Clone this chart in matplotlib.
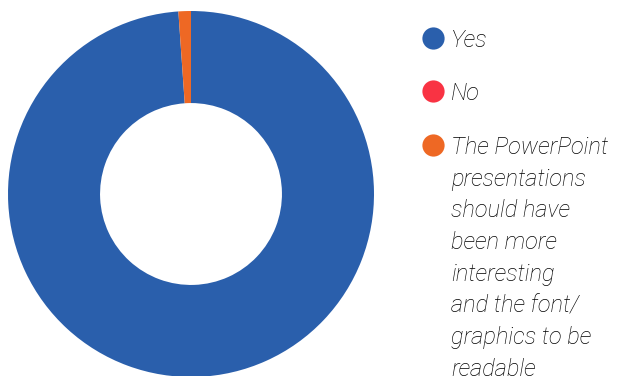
import matplotlib
matplotlib.use("Agg")
import matplotlib.pyplot as plt
from matplotlib.lines import Line2D

labels = ["Yes", "No",
          "The PowerPoint\npresentations\nshould have\nbeen more\ninteresting\nand the font/\ngraphics to be\nreadable"]
values = [98.9, 0.0, 1.1]
colors = ["#2A5FAC", "#F93343", "#EE6824"]

W, H = 617, 376
fig = plt.figure(figsize=(W / 100, H / 100), dpi=100)
fig.patch.set_facecolor("white")

cx, cy, R = 191, 194, 183
ax = fig.add_axes([(cx - R) / W, (H - cy - R) / H, 2 * R / W, 2 * R / H])
ax.pie(values, colors=colors, startangle=90, counterclock=False,
       radius=1.0, wedgeprops=dict(width=0.503, linewidth=0))
ax.set_xlim(-1, 1)
ax.set_ylim(-1, 1)
ax.set_aspect("equal")
ax.axis("off")

font = dict(family=["Roboto", "DejaVu Sans"], style="italic", weight="light",
            size=17, color="#000000")
row_y = [38, 91, 145]
marker_x = 433
text_x = 451
line_px = 31.7
for lab, col, y in zip(labels, colors, row_y):
    fig.add_artist(Line2D([marker_x / W], [1 - y / H], marker="o", markersize=16,
                          markerfacecolor=col, markeredgewidth=0,
                          linestyle="none", transform=fig.transFigure))
    for i, line in enumerate(lab.split("\n")):
        fig.text(text_x / W, 1 - (y + i * line_px) / H, line, ha="left",
                 va="center_baseline", **font)

fig.savefig("out.png", dpi=100)
